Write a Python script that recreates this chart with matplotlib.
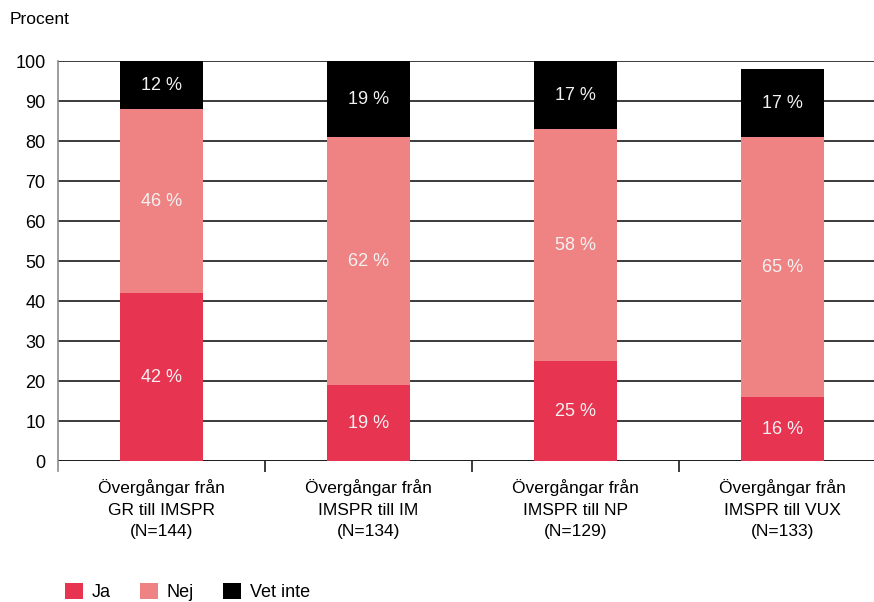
import matplotlib
matplotlib.use("Agg")
import matplotlib.pyplot as plt
from matplotlib.patches import Patch
import numpy as np

plt.rcParams['font.family'] = ['Liberation Sans', 'DejaVu Sans']

categories = ["Övergångar från\nGR till IMSPR\n(N=144)",
              "Övergångar från\nIMSPR till IM\n(N=134)",
              "Övergångar från\nIMSPR till NP\n(N=129)",
              "Övergångar från\nIMSPR till VUX\n(N=133)"]
ja = [42, 19, 25, 16]
nej = [46, 62, 58, 65]
vet_inte = [12, 19, 17, 17]
series_names = ["Ja", "Nej", "Vet inte"]
colors = ["#E73451", "#EF8383", "#000000"]
yticks = [0, 10, 20, 30, 40, 50, 60, 70, 80, 90, 100]

W, H = 874, 602
fig = plt.figure(figsize=(W / 100, H / 100), dpi=100)
left, right, top, bottom = 58, 874, 61, 461
ax = fig.add_axes([left / W, 1 - bottom / H, (right - left) / W, (bottom - top) / H])

x = np.arange(len(categories))
width = 0.4
bottoms = np.zeros(len(categories))
for vals, name, col in zip([ja, nej, vet_inte], series_names, colors):
    vals = np.array(vals, dtype=float)
    ax.bar(x, vals, width, bottom=bottoms, color=col, label=name, zorder=3)
    for xi, b, v in zip(x, bottoms, vals):
        ax.text(xi, b + v / 2, f"{int(v)} %", ha="center", va="center",
                color="#F2F2F2", fontsize=13, zorder=4)
    bottoms += vals

ax.set_xlim(-0.5, -0.5 + (right - left) / 207)
ax.set_ylim(0, 100)
ax.set_yticks(yticks)
ax.set_yticklabels([str(t) for t in yticks], fontsize=13)
ax.yaxis.grid(True, color="#1a1a1a", linewidth=1.2, zorder=0)
ax.set_axisbelow(True)
ax.tick_params(axis="y", length=0, pad=9)
ax.set_xticks(x)
labels = ax.set_xticklabels(categories, fontsize=12.5)
for t in labels:
    t.set_linespacing(1.55)
ax.tick_params(axis="x", length=0, pad=13)
ax.set_xticks([0.5, 1.5, 2.5], minor=True)
ax.tick_params(axis="x", which="minor", length=8, width=1.2, color="#1a1a1a", direction="out")

for s in ["top", "right", "bottom"]:
    ax.spines[s].set_visible(False)
ax.spines["left"].set_color("#8c8c8c")
ax.spines["left"].set_linewidth(1.2)
ax.spines["left"].set_bounds(-2.5, 100)
ax.axhline(0, color="#1a1a1a", linewidth=1.2, zorder=2)

fig.text(10 / W, 1 - 19 / H, "Procent", fontsize=12.5, ha="left", va="center")

handles = [Patch(facecolor=c, edgecolor="none") for c in colors]
fig.legend(handles, series_names, loc="lower left", bbox_to_anchor=(58 / W, -6 / H),
           ncol=3, frameon=False, fontsize=13, handlelength=1.0, handleheight=1.0,
           handletextpad=0.45, columnspacing=1.65, borderaxespad=0)

fig.savefig("out.png", dpi=100)
